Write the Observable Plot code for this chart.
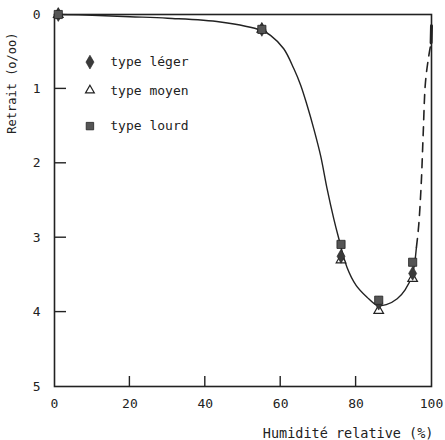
<!DOCTYPE html>
<html>
<head>
<meta charset="utf-8">
<script src="https://cdn.jsdelivr.net/npm/d3@7"></script>
<script src="https://cdn.jsdelivr.net/npm/@observablehq/plot@0.6"></script>
<style>
  html, body { margin: 0; padding: 0; background: white; }
</style>
</head>
<body>
<div id="chart"></div>
<script>
// Measured humidity levels (%)
const humidity = [1, 55, 76, 86, 95];
// Shrinkage (o/oo) per type
const leger = [0, 0.2, 3.25, 3.88, 3.48];
const moyen = [0, 0.2, 3.3, 3.98, 3.55];
const lourd = [0, 0.2, 3.09, 3.84, 3.33];

// Fitted curve (solid part)
const curveX = [1, 10, 20, 30, 44, 55, 57.3, 60.8, 63.5, 65.3, 67, 68.8, 70.6, 72.3, 74.1, 75.2, 77.6, 80, 82.9, 85.6, 88, 90.9, 93, 94.9, 96];
const curveY = [0, 0.01, 0.03, 0.05, 0.1, 0.215, 0.28, 0.46, 0.73, 0.95, 1.22, 1.54, 1.9, 2.34, 2.75, 2.97, 3.4, 3.64, 3.8, 3.91, 3.9, 3.82, 3.7, 3.5, 3.13];
// Dashed extrapolation toward 100 %
const dashX = [96, 96.6, 97.3, 97.8, 98.4, 99.3, 99.9];
const dashY = [3.13, 2.84, 2.25, 1.6, 0.91, 0.55, 0.38];
// Short solid end on the border
const endX = [99.9, 100];
const endY = [0.38, 0.15];

const xTickLabels = [0, 20, 40, 60, 80, 100];
const xTickMarks = [20, 40, 60, 80];
const yTickLabels = [0, 1, 2, 3, 4, 5];
const yTickMarks = [1, 2, 3, 4];

const legendLabels = ["type léger", "type moyen", "type lourd"];

const toPts = (xs, ys) => xs.map((x, i) => ({x, y: ys[i]}));
const ink = "#222";

// layout
const W = 445, H = 440, mL = 54, mR = 14, mT = 14, mB = 54;
const xTickLen = 10, yTickLen = 12;
// legend layout (in data units, inside the frame)
const legX = 9.4, legTextX = 14.8;
const legY = [0.64, 1.02, 1.5];

const chart = Plot.plot({
  width: W,
  height: H,
  marginLeft: mL,
  marginRight: mR,
  marginTop: mT,
  marginBottom: mB,
  style: {fontFamily: "'DejaVu Sans Mono', monospace", fontSize: "13px", color: ink, background: "white"},
  x: {domain: [0, 100]},
  y: {domain: [0, 5], reverse: true},
  marks: [
    Plot.frame({stroke: ink, strokeWidth: 1.6}),
    Plot.axisX({ticks: xTickLabels, tickSize: 0, tickPadding: 12, tickFormat: d3.format("d"), label: null, fontSize: 13}),
    Plot.axisY({ticks: yTickLabels, tickSize: 0, tickPadding: 14, tickFormat: d3.format("d"), label: null, fontSize: 13}),
    Plot.text(["Humidité relative (%)"], {frameAnchor: "bottom-right", textAnchor: "end", lineAnchor: "middle", dx: 2, dy: 47, fontSize: 13.5}),
    Plot.text(["Retrait (o/oo)"], {frameAnchor: "top-left", rotate: -90, textAnchor: "end", lineAnchor: "middle", dx: -42, dy: 18, fontSize: 12}),
    Plot.line(toPts(curveX, curveY), {x: "x", y: "y", curve: "catmull-rom", stroke: ink, strokeWidth: 1.4}),
    Plot.line(toPts(dashX, dashY), {x: "x", y: "y", curve: "catmull-rom", stroke: ink, strokeWidth: 1.6, strokeDasharray: "9,7"}),
    Plot.line(toPts(endX, endY), {x: "x", y: "y", stroke: ink, strokeWidth: 3}),
    Plot.dot(toPts(humidity, moyen), {x: "x", y: "y", symbol: "triangle2", r: 4.6, stroke: ink, strokeWidth: 1.2, fill: "white"}),
    Plot.dot(toPts(humidity, leger), {x: "x", y: "y", symbol: "diamond", r: 4.2, fill: "#3a3a3a", stroke: ink, strokeWidth: 0.6}),
    Plot.dot(toPts(humidity, lourd), {x: "x", y: "y", symbol: "square", r: 4.6, fill: "#555", stroke: ink, strokeWidth: 0.8}),
    // legend
    Plot.dot([legendLabels[0]], {x: () => legX, y: () => legY[0], symbol: "diamond", r: 4.2, fill: "#3a3a3a", stroke: ink, strokeWidth: 0.6}),
    Plot.dot([legendLabels[1]], {x: () => legX, y: () => legY[1], symbol: "triangle2", r: 4.2, stroke: ink, strokeWidth: 1.2, fill: "white"}),
    Plot.dot([legendLabels[2]], {x: () => legX, y: () => legY[2], symbol: "square", r: 4.2, fill: "#555", stroke: ink, strokeWidth: 0.8}),
    Plot.text(legendLabels, {x: () => legTextX, y: (d, i) => legY[i], text: d => d, textAnchor: "start", lineAnchor: "middle", fontSize: 13, fill: ink})
  ]
});
document.getElementById("chart").appendChild(chart);

// Inward tick marks drawn with D3 from Plot's own scales
const xs = chart.scale("x"), ys = chart.scale("y");
const svg = d3.select(chart);
const yBottom = ys.apply(5), xLeft = xs.apply(0);
svg.append("g").attr("stroke", ink).attr("stroke-width", 1.4)
  .selectAll("line").data(xTickMarks).join("line")
  .attr("x1", d => xs.apply(d)).attr("x2", d => xs.apply(d))
  .attr("y1", yBottom).attr("y2", yBottom - xTickLen);
svg.append("g").attr("stroke", ink).attr("stroke-width", 1.4)
  .selectAll("line").data(yTickMarks).join("line")
  .attr("x1", xLeft).attr("x2", xLeft + yTickLen)
  .attr("y1", d => ys.apply(d)).attr("y2", d => ys.apply(d));
</script>
</body>
</html>
